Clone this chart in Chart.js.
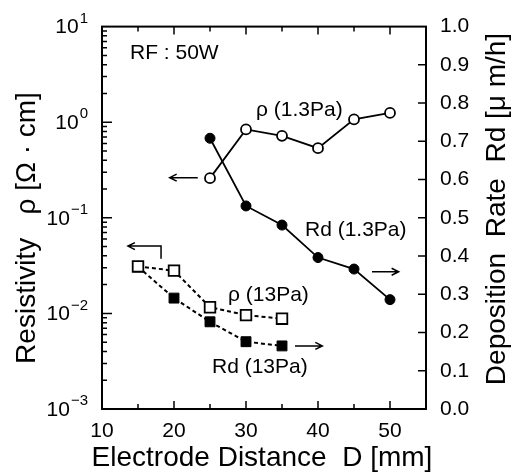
<!DOCTYPE html>
<html>
<head>
<meta charset="utf-8">
<script src="https://cdn.jsdelivr.net/npm/chart.js@4"></script>
<style>
  html, body { margin: 0; padding: 0; background: #fff; }
  #wrap { width: 513px; height: 472px; }
</style>
</head>
<body>
<div id="wrap"><canvas id="c" width="513" height="472"></canvas></div>
<script>
// electrode distance D [mm]
const dist13 = [15, 20, 25, 30, 35];
const dist1_3 = [25, 30, 35, 40, 45, 50];

// resistivity rho [ohm cm] (left, log axis)
const rho13 = [0.031, 0.028, 0.0116, 0.0096, 0.0088];
const rho1_3 = [0.26, 0.84, 0.72, 0.535, 1.07, 1.25];

// deposition rate Rd [um/h] (right axis)
const rd13 = [0.372, 0.29, 0.228, 0.176, 0.165];
const rd1_3 = [0.708, 0.531, 0.481, 0.396, 0.366, 0.286];

const xTicks = [10, 20, 30, 40, 50];
const logDecades = [-3, -2, -1, 0, 1];

const FONT = 'Liberation Sans, Arial, Helvetica, sans-serif';

const pts = (xs, ys) => xs.map((x, i) => ({ x: x, y: ys[i] }));

// annotations in data units (x: mm, y: right axis)
const arrows = [
  { x1: 23.3, x2: 19.4, y: 0.605 },
  { x1: 47.5, x2: 51.2, y: 0.359 },
  { x1: 36.8, x2: 40.6, y: 0.165 }
];

const frame = {
  id: 'frame',
  afterDraw(chart) {
    const ctx = chart.ctx;
    const a = chart.chartArea;
    const x = chart.scales.x, y = chart.scales.y, yR = chart.scales.yR;
    ctx.save();
    ctx.strokeStyle = '#000';
    ctx.fillStyle = '#000';
    ctx.lineWidth = 2;
    ctx.strokeRect(a.left, a.top, a.right - a.left, a.bottom - a.top);

    ctx.lineWidth = 1.5;
    ctx.beginPath();
    // x ticks, bottom + top
    for (let v = 15; v <= 50; v += 5) {
      const px = x.getPixelForValue(v);
      const len = v % 10 === 0 ? 8 : 5;
      ctx.moveTo(px, a.bottom); ctx.lineTo(px, a.bottom - len);
      ctx.moveTo(px, a.top); ctx.lineTo(px, a.top + len);
    }
    // log ticks on left
    for (let d = -3; d < 1; d++) {
      for (let k = 1; k <= 9; k++) {
        const py = y.getPixelForValue(k * Math.pow(10, d));
        const len = k === 1 ? 10 : 5;
        ctx.moveTo(a.left, py); ctx.lineTo(a.left + len, py);
      }
    }
    // right axis ticks
    for (let v = 1; v <= 9; v++) {
      const py = yR.getPixelForValue(v / 10);
      ctx.moveTo(a.right, py); ctx.lineTo(a.right - 8, py);
    }
    ctx.stroke();

    // left tick labels 10^n
    ctx.textBaseline = 'middle';
    logDecades.forEach(n => {
      const py = y.getPixelForValue(Math.pow(10, n));
      const exp = n < 0 ? '\u2212' + (-n) : String(n);
      ctx.font = '15px ' + FONT;
      ctx.textAlign = 'right';
      const ew = ctx.measureText(exp).width;
      ctx.fillText(exp, 88, py - 8);
      ctx.font = '21px ' + FONT;
      ctx.fillText('10', 87 - ew, py + 1);
    });

    // axis titles
    ctx.font = '28px ' + FONT;
    ctx.textAlign = 'center';
    ctx.fillText('Electrode Distance  D [mm]', 262, 458);
    ctx.save();
    ctx.translate(27, 228);
    ctx.rotate(-Math.PI / 2);
    ctx.fillText('Resistivity   \u03c1 [\u03a9 \u00b7 cm]', 0, 0);
    ctx.restore();
    ctx.save();
    ctx.translate(497, 209);
    ctx.rotate(-Math.PI / 2);
    ctx.fillText('Deposition  Rate  Rd [\u03bc m/h]', 0, 0);
    ctx.restore();

    // in-plot labels
    ctx.font = '21px ' + FONT;
    ctx.textAlign = 'left';
    ctx.fillText('RF : 50W', 130, 53);
    ctx.fillText('\u03c1 (1.3Pa)', 256, 110);
    ctx.fillText('Rd (1.3Pa)', 305, 230);
    ctx.fillText('\u03c1 (13Pa)', 228, 295);
    ctx.fillText('Rd (13Pa)', 212, 367);

    // arrows
    ctx.lineWidth = 1.5;
    const head = (hx, hy, dir) => {
      ctx.moveTo(hx + dir * 7, hy - 3.5); ctx.lineTo(hx, hy); ctx.lineTo(hx + dir * 7, hy + 3.5);
    };
    ctx.beginPath();
    arrows.forEach(ar => {
      const p1 = x.getPixelForValue(ar.x1), p2 = x.getPixelForValue(ar.x2);
      const py = yR.getPixelForValue(ar.y);
      ctx.moveTo(p1, py); ctx.lineTo(p2, py);
      head(p2, py, p2 < p1 ? 1 : -1);
    });
    // bent arrow for rho (13Pa)
    const bx1 = x.getPixelForValue(18.2), bx2 = x.getPixelForValue(13.6);
    const by1 = yR.getPixelForValue(0.393), by2 = yR.getPixelForValue(0.426);
    ctx.moveTo(bx1, by1); ctx.lineTo(bx1, by2); ctx.lineTo(bx2, by2);
    head(bx2, by2, 1);
    ctx.stroke();
    ctx.restore();
  }
};

new Chart(document.getElementById('c'), {
  type: 'line',
  data: {
    datasets: [
      {
        label: 'rho (13Pa)', data: pts(dist13, rho13), yAxisID: 'y',
        borderColor: '#000', borderWidth: 2, borderDash: [4, 3],
        pointStyle: 'rect', pointRadius: 7.5, pointBorderWidth: 1.8,
        pointBackgroundColor: '#fff', pointBorderColor: '#000'
      },
      {
        label: 'Rd (13Pa)', data: pts(dist13, rd13), yAxisID: 'yR',
        borderColor: '#000', borderWidth: 2, borderDash: [4, 3],
        pointStyle: 'rect', pointRadius: 7, pointBorderWidth: 1,
        pointBackgroundColor: '#000', pointBorderColor: '#000'
      },
      {
        label: 'rho (1.3Pa)', data: pts(dist1_3, rho1_3), yAxisID: 'y',
        borderColor: '#000', borderWidth: 1.8,
        pointStyle: 'circle', pointRadius: 5, pointBorderWidth: 1.8,
        pointBackgroundColor: '#fff', pointBorderColor: '#000'
      },
      {
        label: 'Rd (1.3Pa)', data: pts(dist1_3, rd1_3), yAxisID: 'yR',
        borderColor: '#000', borderWidth: 1.8,
        pointStyle: 'circle', pointRadius: 5, pointBorderWidth: 1,
        pointBackgroundColor: '#000', pointBorderColor: '#000'
      }
    ]
  },
  options: {
    responsive: false,
    animation: false,
    layout: { padding: { top: 22, left: 0, right: 0, bottom: 0 } },
    plugins: { legend: { display: false }, tooltip: { enabled: false } },
    scales: {
      x: {
        type: 'linear', min: 10, max: 55,
        grid: { display: false, drawTicks: false },
        border: { display: false },
        ticks: {
          stepSize: 5, autoSkip: false, maxRotation: 0, padding: 10,
          color: '#000', font: { size: 21, family: FONT },
          callback: v => xTicks.includes(v) ? String(v) : ''
        },
        afterFit: s => { s.height = 63; }
      },
      y: {
        type: 'logarithmic', position: 'left', min: 0.001, max: 10,
        grid: { display: false, drawTicks: false },
        border: { display: false },
        ticks: { display: false },
        afterFit: s => { s.width = 102; }
      },
      yR: {
        type: 'linear', position: 'right', min: 0, max: 1,
        grid: { display: false, drawTicks: false },
        border: { display: false },
        ticks: {
          stepSize: 0.1, padding: 14, color: '#000',
          font: { size: 21, family: FONT },
          callback: v => v.toFixed(1)
        },
        afterFit: s => { s.width = 87; }
      }
    }
  },
  plugins: [frame]
});
</script>
</body>
</html>
